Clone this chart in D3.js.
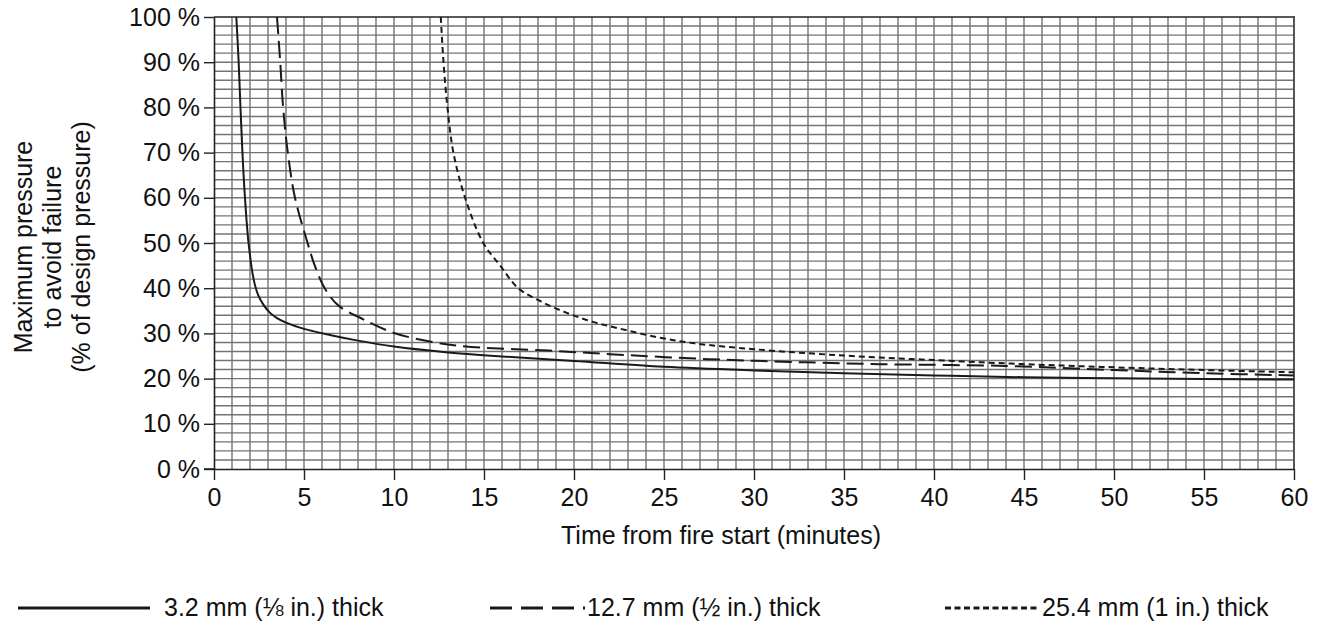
<!DOCTYPE html>
<html>
<head>
<meta charset="utf-8">
<script src="https://cdn.jsdelivr.net/npm/d3@7"></script>
<style>
  body { margin: 0; background: #fff; }
  svg { font-family: "Liberation Sans", Arial, sans-serif; }
  .grid line { stroke: #747474; stroke-width: 1.4; }
  .curve { fill: none; stroke: #1a1a1a; stroke-width: 2; }
</style>
</head>
<body>
<svg width="1317" height="624"></svg>
<script>
// minutes from fire start vs. max pressure (% of design)
const thin = [
    [1.24, 100], [1.37, 90], [1.47, 80], [1.58, 70], [1.72, 60], [1.92, 50],
    [2.2, 42], [2.45, 38.5], [2.75, 36.3], [3.1, 34.6], [3.5, 33.4], [4, 32.4],
    [5, 31], [6.5, 29.6], [8, 28.4], [10, 27.1], [13, 25.8], [16, 24.9],
    [20, 23.9], [25, 22.6], [30, 21.8], [35, 21.2], [40, 20.7], [45, 20.3],
    [50, 20.1], [55, 19.9], [60, 19.8]
];
const medium = [
    [3.5, 100], [3.68, 90], [3.84, 80], [4.1, 70], [4.5, 60], [5.2, 50],
    [5.6, 45], [6.15, 40], [6.9, 36.2], [8.2, 33.3], [10, 30.1], [12.3, 28],
    [14.3, 27], [18.6, 26.2], [22, 25.4], [27.5, 24.3], [32, 23.7], [37, 23.2],
    [44, 22.8], [50, 21.9], [55, 21.2], [60, 20.7]
];
const thick = [
    [12.6, 100], [12.75, 90], [12.97, 80], [13.3, 70], [13.95, 60], [14.96, 50],
    [15.9, 45], [16.9, 40], [18.2, 37], [19.5, 34.7], [21, 32.6], [22.5, 31.1],
    [24.7, 29.1], [26.7, 27.8], [30, 26.5], [35, 25.1], [40, 24.1], [45, 23.2],
    [50, 22.5], [55, 21.9], [60, 21.4]
];
const xTicks = d3.range(0, 61, 5);
const yTicks = d3.range(0, 101, 10);
const legendLabels = ["3.2 mm (\u215B in.) thick", "12.7 mm (\u00BD in.) thick", "25.4 mm (1 in.) thick"];

const svg = d3.select("svg");
const plot = { left: 214, right: 1294, top: 17, bottom: 469 };
const fontSize = 25;

const x = d3.scaleLinear().domain([0, 60]).range([plot.left, plot.right]);
const y = d3.scaleLinear().domain([0, 100]).range([plot.bottom, plot.top]);

// grid: one line per minute, one per 2 %
const grid = svg.append("g").attr("class", "grid");
grid.selectAll(".v")
    .data(d3.range(1, 61))
    .enter()
    .append("line")
    .attr("x1", d => x(d))
    .attr("x2", d => x(d))
    .attr("y1", plot.top)
    .attr("y2", plot.bottom);
grid.selectAll(".h")
    .data(d3.range(2, 100, 2))
    .enter()
    .append("line")
    .attr("x1", plot.left)
    .attr("x2", plot.right)
    .attr("y1", d => y(d))
    .attr("y2", d => y(d));

// frame
svg.append("line")
    .attr("x1", plot.left).attr("x2", plot.right + 1)
    .attr("y1", plot.top).attr("y2", plot.top)
    .attr("stroke", "#222").attr("stroke-width", 1.6);
svg.append("line")
    .attr("x1", plot.right).attr("x2", plot.right)
    .attr("y1", plot.top).attr("y2", plot.bottom)
    .attr("stroke", "#444").attr("stroke-width", 1.6);

const xAxis = svg.append("g")
    .attr("transform", `translate(0,${plot.bottom})`)
    .call(d3.axisBottom(x).tickValues(xTicks).tickSize(11).tickPadding(8).tickSizeOuter(0));
const yAxis = svg.append("g")
    .attr("transform", `translate(${plot.left},0)`)
    .call(d3.axisLeft(y).tickValues(yTicks).tickSize(10).tickPadding(4)
        .tickFormat(d => d + " %").tickSizeOuter(0));

[xAxis, yAxis].forEach(a => {
    a.select(".domain").attr("stroke", "#222").attr("stroke-width", 1.6);
    a.selectAll(".tick line").attr("stroke", "#222").attr("stroke-width", 1.4);
    a.selectAll("text").attr("fill", "#111").attr("font-size", fontSize)
        .attr("font-family", "Liberation Sans, Arial, sans-serif");
});
// axis lines run a bit past the corner
svg.append("line")
    .attr("x1", plot.left - 10).attr("x2", plot.left)
    .attr("y1", plot.bottom).attr("y2", plot.bottom)
    .attr("stroke", "#222").attr("stroke-width", 1.6);

const line = d3.line()
    .x(d => x(d[0]))
    .y(d => y(d[1]))
    .curve(d3.curveCatmullRom.alpha(0.5));

const series = [
    { data: thin, dash: null },
    { data: medium, dash: "17,7" },
    { data: thick, dash: "6,4" }
];

series.forEach(s => {
    svg.append("path")
        .datum(s.data)
        .attr("class", "curve")
        .attr("d", line)
        .attr("stroke-dasharray", s.dash);
});

// axis titles
svg.append("text")
    .attr("x", 721)
    .attr("y", 544)
    .attr("text-anchor", "middle")
    .attr("font-size", fontSize)
    .attr("fill", "#111")
    .text("Time from fire start (minutes)");

const yTitle = ["Maximum pressure", "to avoid failure", "(% of design pressure)"];
yTitle.forEach((t, i) => {
    svg.append("text")
        .attr("transform", `translate(${32 + i * 29},247) rotate(-90)`)
        .attr("text-anchor", "middle")
        .attr("font-size", fontSize)
        .attr("fill", "#111")
        .text(t);
});

// legend
const legendX = [[18, 150], [490, 585], [945, 1040]];
legendLabels.forEach((lab, i) => {
    svg.append("line")
        .attr("x1", legendX[i][0])
        .attr("x2", legendX[i][1])
        .attr("y1", 608)
        .attr("y2", 608)
        .attr("stroke", "#1a1a1a")
        .attr("stroke-width", 3)
        .attr("stroke-dasharray", series[i].dash ? (i === 1 ? "22,9" : "6,3.5") : null);
    svg.append("text")
        .attr("x", legendX[i][1] + (i === 0 ? 14 : 2))
        .attr("y", 616)
        .attr("font-size", fontSize)
        .attr("fill", "#111")
        .text(lab);
});
</script>
</body>
</html>
